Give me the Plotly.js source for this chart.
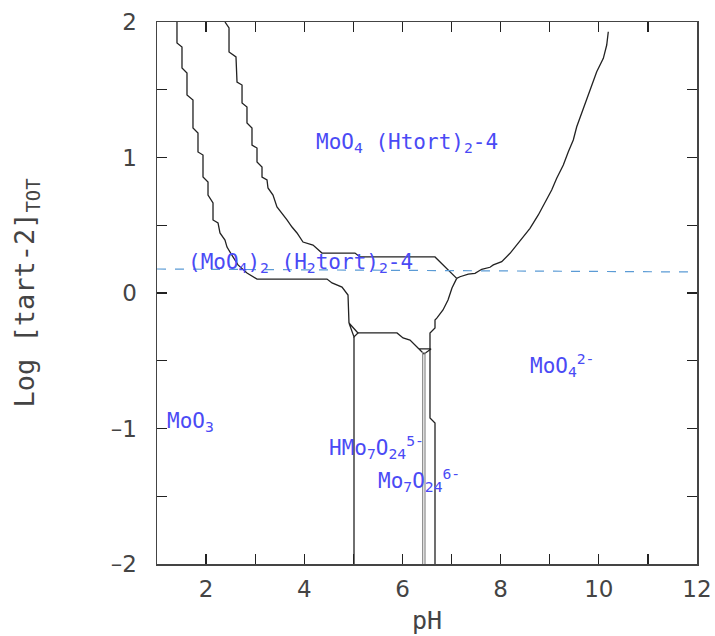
<!DOCTYPE html>
<html>
<head>
<meta charset="utf-8">
<script src="https://cdn.plot.ly/plotly-3.0.1.min.js"></script>
<style>
html,body{margin:0;padding:0;background:#fff;}
#chart{width:715px;height:636px;}
</style>
</head>
<body>
<div id="chart"></div>
<script>
// Boundary A (MoO3 / (MoO4)2(H2tort)2 / HMo7O24 ...)
const lineA_x = [1.407,1.407,1.509,1.509,1.611,1.611,1.733,1.733,1.835,1.835,1.937,1.937,2.039,2.039,2.141,2.141,2.243,2.283,2.385,2.426,2.548,2.650,2.833,3.037,4.463,4.565,4.769,4.891,4.911];
const lineA_y = [2.000,1.845,1.815,1.661,1.624,1.461,1.424,1.218,1.181,1.041,1.018,0.856,0.819,0.723,0.664,0.539,0.517,0.443,0.391,0.339,0.266,0.207,0.148,0.103,0.103,0.074,0.044,-0.015,-0.221];
// Small triple point at pH ~5
const tri1_x = [4.911,5.094,5.013,4.911];
const tri1_y = [-0.221,-0.295,-0.324,-0.221];
// Horizontal boundary HMo7O24 / (MoO4)2(H2tort)2
const lineD_x = [5.094,5.889,6.012,6.154,6.337];
const lineD_y = [-0.295,-0.295,-0.332,-0.347,-0.413];
// Vertical MoO3 / HMo7O24
const lineE_x = [5.013,5.013];
const lineE_y = [-0.324,-2];
// Boundary B (MoO4(Htort)2 upper-left)
const lineB_x = [2.385,2.467,2.467,2.609,2.630,2.732,2.732,2.833,2.833,2.935,2.935,3.037,3.037,3.139,3.139,3.241,3.261,3.363,3.444,3.546,3.648,3.750,3.852,3.974,4.178,4.361,5.033,5.135,6.663,7.105];
const lineB_y = [2.000,1.956,1.779,1.742,1.557,1.535,1.402,1.373,1.255,1.218,1.092,1.070,0.967,0.930,0.856,0.834,0.775,0.723,0.635,0.590,0.539,0.487,0.443,0.376,0.354,0.295,0.295,0.266,0.266,0.108];
// Boundary C (MoO4(Htort)2 / MoO4 2-)
const lineC_x = [7.105,7.172,7.341,7.478,7.614,7.783,7.851,8.022,8.191,8.327,8.462,8.598,8.767,8.938,9.040,9.142,9.277,9.379,9.480,9.550,9.652,9.754,9.855,9.957,10.092,10.161,10.193];
const lineC_y = [0.108,0.120,0.140,0.145,0.175,0.190,0.207,0.231,0.293,0.354,0.416,0.477,0.576,0.686,0.760,0.847,0.945,1.043,1.129,1.227,1.326,1.424,1.523,1.633,1.732,1.830,1.928];
// Boundary F (down from triple point to pH axis)
const lineF_x = [7.105,7.009,6.928,6.826,6.704,6.663,6.663,6.561,6.561,6.663,6.663];
const lineF_y = [0.108,0.037,-0.052,-0.125,-0.184,-0.199,-0.258,-0.295,-0.923,-0.959,-2];
// Small triple point at pH ~6.4
const tri2_x = [6.337,6.582,6.439,6.337];
const tri2_y = [-0.413,-0.413,-0.450,-0.413];
// Double line HMo7O24 / Mo7O24
const lineG1_x = [6.412,6.412];
const lineG1_y = [-0.435,-2];
const lineG2_x = [6.459,6.459];
const lineG2_y = [-0.435,-2];
// Dashed reference line
const dash_x = [1,12];
const dash_y = [0.177,0.155];

// Region labels
const labelText = [
  "MoO<sub>4</sub> (Htort)<sub>2</sub>-4",
  "(MoO<sub>4</sub>)<sub>2</sub> (H<sub>2</sub>tort)<sub>2</sub>-4",
  "MoO<sub>4</sub><sup>2-</sup>",
  "MoO<sub>3</sub>",
  "HMo<sub>7</sub>O<sub>24</sub><sup>5-</sup>",
  "Mo<sub>7</sub>O<sub>24</sub><sup>6-</sup>"
];
const labelX = [4.20, 1.60, 8.56, 1.163, 4.46, 5.46];
const labelY = [1.11, 0.22, -0.53, -0.95, -1.14, -1.38];

const xTickVals = [2,4,6,8,10,12];
const yTickVals = [-2,-1,0,1,2];

const blk = {color:'#222', width:1.3};
function ln(x,y,extra){
  return Object.assign({x:x,y:y,type:'scatter',mode:'lines',line:blk,hoverinfo:'skip',showlegend:false},extra||{});
}
const traces = [
  ln(lineA_x,lineA_y), ln(tri1_x,tri1_y), ln(lineD_x,lineD_y), ln(lineE_x,lineE_y),
  ln(lineB_x,lineB_y), ln(lineC_x,lineC_y), ln(lineF_x,lineF_y), ln(tri2_x,tri2_y),
  ln(lineG1_x,lineG1_y,{line:{color:'#888',width:1.2}}),
  ln(lineG2_x,lineG2_y,{line:{color:'#888',width:1.2}}),
  ln(dash_x,dash_y,{line:{color:'#5b9bd5',width:1.2,dash:'dash'}})
];

const annFont = {family:'DejaVu Sans Mono, monospace', size:21, color:'#4a4af5'};
const annotations = labelText.map((t,i)=>({
  x:labelX[i], y:labelY[i], xref:'x', yref:'y', text:t, showarrow:false,
  xanchor:'left', yanchor:'middle', font:annFont
}));

const axisCommon = {
  showline:true, mirror:'ticks', linecolor:'#444', linewidth:1.5,
  ticks:'inside', ticklen:10, tickcolor:'#222', tickwidth:1.3,
  showgrid:false, zeroline:false, fixedrange:true,
  tickfont:{family:'DejaVu Sans, sans-serif', size:23, color:'#444'}
};

const layout = {
  width:715, height:636,
  margin:{l:157, r:18, t:22, b:72},
  paper_bgcolor:'#fff', plot_bgcolor:'#fff',
  xaxis: Object.assign({}, axisCommon, {
    range:[1,12], tickvals:xTickVals, ticktext:xTickVals.map(String),
    minor:{tickvals:[2,3,4,5,6,7,8,9,10,11], ticks:'inside', ticklen:10, tickcolor:'#222', tickwidth:1.3},
    ticklabelstandoff:4,
    title:{text:'pH', font:{family:'DejaVu Sans Mono, monospace', size:25, color:'#444'}, standoff:10}
  }),
  yaxis: Object.assign({}, axisCommon, {
    range:[-2,2], tickvals:yTickVals, ticktext:yTickVals.map(v=>v<0?'–'+Math.abs(v):String(v)),
    minor:{tickvals:[-1.5,-0.5,0.5,1.5], ticks:'inside', ticklen:10, tickcolor:'#222', tickwidth:1.3},
    ticklabelstandoff:14,
    title:{text:'Log [tart-2]<sub>TOT</sub>', font:{family:'DejaVu Sans Mono, monospace', size:27, color:'#444'}, standoff:68}
  }),
  annotations: annotations,
  showlegend:false
};

Plotly.newPlot('chart', traces, layout, {staticPlot:true, displayModeBar:false});
</script>
</body>
</html>
